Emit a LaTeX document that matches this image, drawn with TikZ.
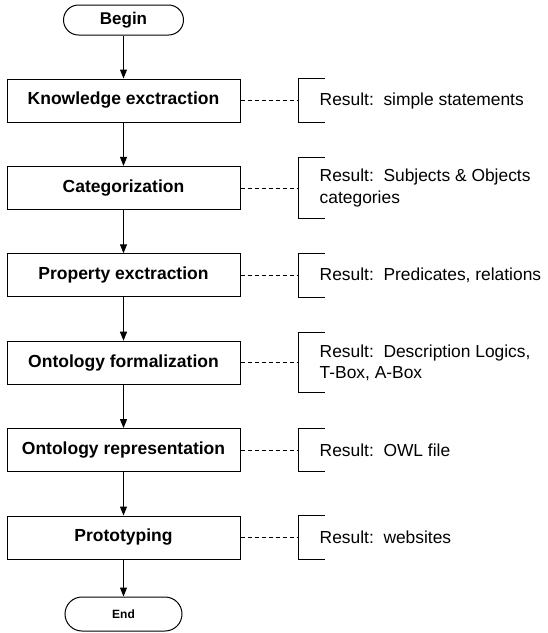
\documentclass[tikz,border=0pt]{standalone}
\usepackage{fontspec}
\setmainfont{Liberation Sans}
\usetikzlibrary{arrows.meta, positioning}
\tikzstyle{startstop} = [rectangle, rounded corners=15pt, minimum width=120pt, minimum height=30pt,
                         text centered, draw=black, line width=1pt, font=\fontsize{17}{20}\selectfont\bfseries]
\tikzstyle{process}   = [rectangle, minimum width=233pt, minimum height=43pt,
                         text centered, draw=black, line width=1pt, font=\fontsize{17.5}{21}\selectfont\bfseries]
\tikzstyle{result}    = [inner xsep=21pt, inner ysep=11.5pt, minimum height=43pt, align=left,
                         font=\fontsize{17.4}{21.5}\selectfont]
\tikzstyle{arrow}     = [-{Triangle[length=9pt, width=7pt]}, line width=1pt]
\tikzstyle{link}      = [dash pattern=on 4pt off 3pt, line width=0.8pt]
\tikzstyle{bracket}   = [line width=1pt]

\begin{document}
\begin{tikzpicture}[node distance=43.4pt]
    \useasboundingbox (0,0) rectangle (548pt,-633pt);
    \node (begin) [startstop] at (123.5pt,-20pt) {Begin};

    \node (p1) [process, below=43pt of begin] {Knowledge exctraction};
    \node (p2) [process, below=of p1] {Categorization};
    \node (p3) [process, below=of p2] {Property exctraction};
    \node (p4) [process, below=of p3] {Ontology formalization};
    \node (p5) [process, below=of p4] {Ontology representation};
    \node (p6) [process, below=of p5] {Prototyping};

    \node (end) [startstop, below=37pt of p6, minimum width=117pt, minimum height=34pt,
                 rounded corners=17pt, font=\fontsize{12}{14}\selectfont\bfseries] {End};

    \node (r1) [result, right=58pt of p1] {Result:\ \ simple statements};
    \node (r2) [result, right=58pt of p2] {Result:\ \ Subjects \& Objects\\categories};
    \node (r3) [result, right=58pt of p3] {Result:\ \ Predicates, relations};
    \node (r4) [result, right=58pt of p4] {Result:\ \ Description Logics,\\T-Box, A-Box};
    \node (r5) [result, right=58pt of p5] {Result:\ \ OWL file};
    \node (r6) [result, right=58pt of p6] {Result:\ \ websites};

    \draw[arrow] (begin) -- (p1);
    \draw[arrow] (p1) -- (p2);
    \draw[arrow] (p2) -- (p3);
    \draw[arrow] (p3) -- (p4);
    \draw[arrow] (p4) -- (p5);
    \draw[arrow] (p5) -- (p6);
    \draw[arrow] (p6) -- (end);

    \foreach \i in {1,...,6} {
        \draw[link] (p\i) -- (r\i);
        \draw[bracket] ([xshift=26pt]r\i.north west) -- (r\i.north west)
            -- (r\i.south west) -- ([xshift=26pt]r\i.south west);
    }
\end{tikzpicture}
\end{document}
